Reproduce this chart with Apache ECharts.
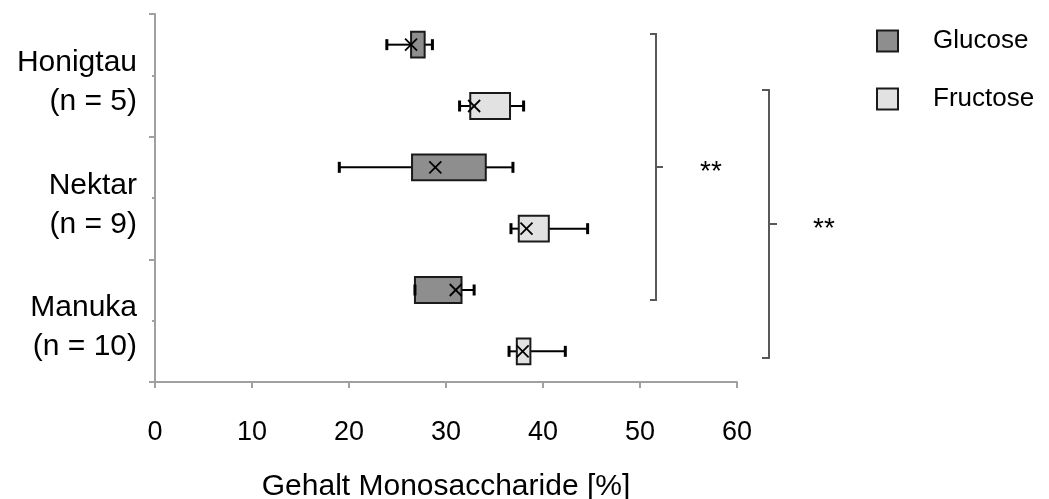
<!DOCTYPE html>
<html><head><meta charset="utf-8">
<script src="https://cdn.jsdelivr.net/npm/echarts/dist/echarts.min.js"></script>
<style>html,body{margin:0;padding:0;background:#fff}#c{width:1049px;height:499px}</style>
</head><body><div id="c"></div>
<script>
// ---- data ----
const categories = ['Honigtau\n(n = 5)', 'Nektar\n(n = 9)', 'Manuka\n(n = 10)'];
const seriesNames = ['Glucose', 'Fructose'];
// each row: [min, q1, q3, max, mean]
const glucose = [
  [23.9, 26.4, 27.8, 28.6, 26.4],
  [19.0, 26.5, 34.1, 36.9, 28.9],
  [26.8, 26.8, 31.6, 32.9, 31.0]
];
const fructose = [
  [31.4, 32.5, 36.6, 38.0, 32.9],
  [36.7, 37.5, 40.6, 44.6, 38.3],
  [36.5, 37.3, 38.7, 42.3, 37.9]
];
const xMin = 0, xMax = 60, xStep = 10;
const axisTitle = 'Gehalt Monosaccharide [%]';
const sigLabel = '**';

const FONT = 'Liberation Sans, Arial, sans-serif';
const colors = { Glucose: '#8e8e8e', Fructose: '#e2e2e2' };

function makeRender(sign, fill) {
  return function (params, api) {
    const cat = api.value(0);
    const vmin = api.value(1), q1 = api.value(2), q3 = api.value(3), vmax = api.value(4), mean = api.value(5);
    const band = api.size([0, 1])[1];
    const cy = api.coord([0, cat])[1] + sign * band / 4;
    const h = band * 0.21;
    const x = v => api.coord([v, cat])[0];
    const capH = 11, m = 6;
    const lw = { stroke: '#000', lineWidth: 2 };
    const mx = x(mean);
    return {
      type: 'group',
      children: [
        { type: 'line', shape: { x1: x(vmin), y1: cy, x2: x(q1), y2: cy }, style: lw },
        { type: 'line', shape: { x1: x(q3), y1: cy, x2: x(vmax), y2: cy }, style: lw },
        { type: 'rect', shape: { x: x(q1), y: cy - h / 2, width: x(q3) - x(q1), height: h }, style: { fill: fill, stroke: '#1a1a1a', lineWidth: 2 } },
        { type: 'line', shape: { x1: x(vmin), y1: cy - capH / 2, x2: x(vmin), y2: cy + capH / 2 }, style: { stroke: '#000', lineWidth: 3 } },
        { type: 'line', shape: { x1: x(vmax), y1: cy - capH / 2, x2: x(vmax), y2: cy + capH / 2 }, style: { stroke: '#000', lineWidth: 3 } },
        { type: 'line', shape: { x1: mx - m, y1: cy - m, x2: mx + m, y2: cy + m }, style: { stroke: '#000', lineWidth: 1.8 } },
        { type: 'line', shape: { x1: mx - m, y1: cy + m, x2: mx + m, y2: cy - m }, style: { stroke: '#000', lineWidth: 1.8 } }
      ]
    };
  };
}

const chart = echarts.init(document.getElementById('c'), null, { renderer: 'canvas' });
const axisColor = '#a0a0a0';
chart.setOption({
  animation: false,
  textStyle: { fontFamily: FONT },
  grid: { left: 155, right: 312, top: 14, bottom: 117, containLabel: false, outerBoundsMode: 'none' },
  xAxis: {
    type: 'value', min: xMin, max: xMax, interval: xStep,
    axisLine: { show: true, lineStyle: { color: axisColor, width: 2 } },
    axisTick: { show: true, length: 6, lineStyle: { color: axisColor, width: 2 } },
    splitLine: { show: false },
    axisLabel: { color: '#000', fontSize: 27, fontFamily: FONT, margin: 37 },
    name: axisTitle, nameLocation: 'middle', nameGap: 90,
    nameTextStyle: { color: '#000', fontSize: 30, fontFamily: FONT }
  },
  yAxis: [{
    type: 'category', data: categories, inverse: true,
    axisLine: { show: true, lineStyle: { color: axisColor, width: 2 } },
    axisTick: { show: true, length: 6, interval: 0, lineStyle: { color: axisColor, width: 2 } },
    axisLabel: {
      color: '#000', fontFamily: FONT, margin: 18, align: 'right',
      formatter: v => '{s| }\n' + v.split('\n').map(t => '{t|' + t + '}').join('\n'),
      rich: {
        s: { fontSize: 10, lineHeight: 14, align: 'right' },
        t: { fontSize: 30, lineHeight: 39, color: '#000', fontFamily: FONT, align: 'right' }
      }
    }
  }, {
    type: 'category', data: categories, inverse: true, position: 'left',
    axisLine: { show: false },
    axisTick: { show: true, alignWithLabel: true, length: 3, interval: 0, lineStyle: { color: axisColor, width: 2 } },
    axisLabel: { show: false }
  }],
  legend: {
    orient: 'vertical', left: 871, top: 23, itemWidth: 21, itemHeight: 21, itemGap: 32, icon: 'rect',
    textStyle: { fontSize: 26, lineHeight: 26, color: '#000', fontFamily: FONT, padding: [0, 0, 0, 30] },
    data: seriesNames.map(n => ({ name: n, itemStyle: { color: colors[n], borderColor: '#1a1a1a', borderWidth: 2 } }))
  },
  series: [
    { name: 'Glucose', type: 'custom', renderItem: makeRender(-1, colors.Glucose),
      itemStyle: { color: colors.Glucose, borderColor: '#1a1a1a', borderWidth: 2 },
      encode: { x: [1, 2, 3, 4, 5], y: 0 },
      data: glucose.map((d, i) => [i].concat(d)) },
    { name: 'Fructose', type: 'custom', renderItem: makeRender(1, colors.Fructose),
      itemStyle: { color: colors.Fructose, borderColor: '#1a1a1a', borderWidth: 2 },
      encode: { x: [1, 2, 3, 4, 5], y: 0 },
      data: fructose.map((d, i) => [i].concat(d)) }
  ],
  graphic: [
    { type: 'polyline', shape: { points: [[650, 34], [656, 34], [656, 300], [650, 300]] }, style: { stroke: '#595959', lineWidth: 2, fill: null } },
    { type: 'line', shape: { x1: 656, y1: 167, x2: 663, y2: 167 }, style: { stroke: '#595959', lineWidth: 2 } },
    { type: 'polyline', shape: { points: [[762, 90], [769, 90], [769, 358], [762, 358]] }, style: { stroke: '#595959', lineWidth: 2, fill: null } },
    { type: 'line', shape: { x1: 769, y1: 224, x2: 777, y2: 224 }, style: { stroke: '#595959', lineWidth: 2 } },
    { type: 'text', x: 711, y: 172, style: { text: sigLabel, font: '28px ' + FONT, fill: '#000', textAlign: 'center', textVerticalAlign: 'middle' } },
    { type: 'text', x: 824, y: 229, style: { text: sigLabel, font: '28px ' + FONT, fill: '#000', textAlign: 'center', textVerticalAlign: 'middle' } }
  ]
});
</script></body></html>
